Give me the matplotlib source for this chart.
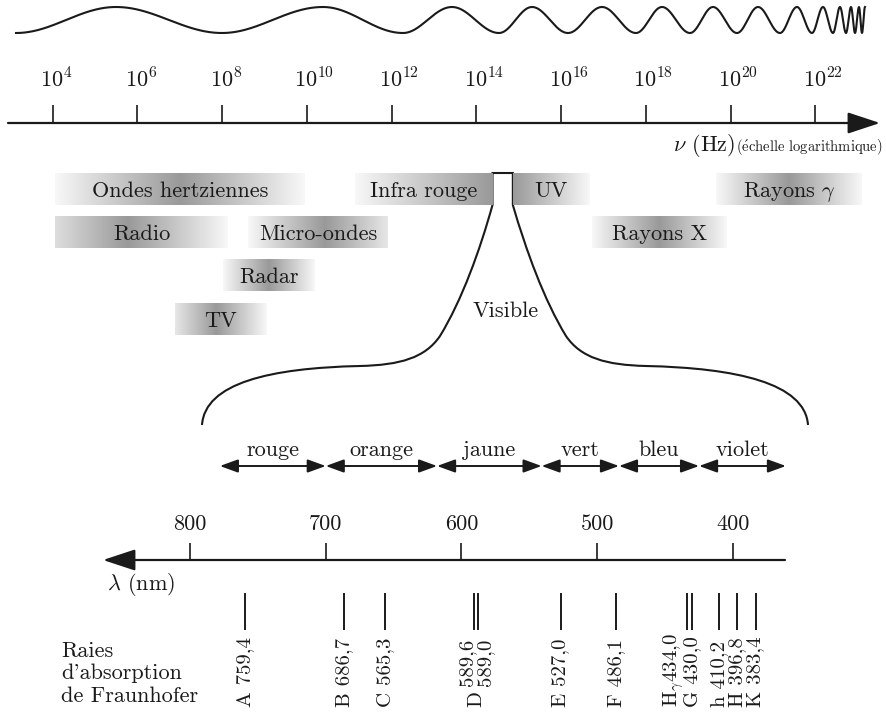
import numpy as np
import matplotlib
matplotlib.use("Agg")
import matplotlib.pyplot as plt
import matplotlib.transforms as mtransforms
from matplotlib.path import Path
from matplotlib.patches import PathPatch

plt.rcParams['font.family'] = ['cmr10', 'DejaVu Serif']
plt.rcParams['mathtext.fontset'] = 'cm'
plt.rcParams['axes.unicode_minus'] = False

INK = '#1a1a1a'

# frequency scale (log10 of Hz)
nu_ticks = [4, 6, 8, 10, 12, 14, 16, 18, 20, 22]

# domains of the spectrum, in log10(Hz)
band_names = ['Ondes hertziennes', 'Infra rouge', 'UV', r'Rayons $\gamma$',
              'Radio', 'Micro-ondes', 'Rayons X', 'Radar', 'TV']
band_lo = [4.06, 11.13, 14.86, 19.66, 4.06, 8.61, 16.72, 8.02, 6.89]
band_hi = [9.95, 14.38, 16.67, 23.10, 8.14, 11.91, 19.90, 10.19, 9.06]
band_row = [0, 0, 0, 0, 1, 1, 1, 2, 3]
band_peak = [0.5, 1.0, 0.0, 0.5, 0.42, 0.55, 0.5, 0.5, 0.45]
visible_lo, visible_hi = 14.38, 14.86

# visible spectrum (nm)
lam_ticks = [800, 700, 600, 500, 400]
color_names = ['rouge', 'orange', 'jaune', 'vert', 'bleu', 'violet']
color_edges = [778, 700, 618, 541, 484, 425, 361]

# Fraunhofer lines
fraun_lam = [759.4, 686.7, 656.3, 589.6, 589.0, 527.0, 486.1,
             434.0, 430.0, 410.2, 396.8, 383.4]
fraun_lab = ['A 759,4', 'B 686,7', 'C 565,3', None, None, 'E 527,0', 'F 486,1',
             r'H$_\gamma$434,0', 'G 430,0', 'h 410,2', 'H 396,8', 'K 383,4']

# x positions (px) of crests/troughs of the drawn wave
wave_ext = [16, 116, 222, 323, 403, 452, 499, 532, 568, 602, 636, 662, 690,
            713, 737, 758, 780, 797, 812, 823, 833, 840, 846, 851, 855, 859,
            862, 865]

W, H = 887, 713
fig = plt.figure(figsize=(W / 100, H / 100), dpi=100)

def layer(xlim):
    ax = fig.add_axes([0, 0, 1, 1])
    ax.set_xlim(*xlim)
    ax.set_ylim(H, 0)
    ax.axis('off')
    ax.patch.set_alpha(0)
    return ax

canvas = layer((0, W))
px_dec = (815.5 - 52.5) / 18
nu_lim = (4 - 52.5 / px_dec, 4 + (W - 52.5) / px_dec)
ax_nu = layer(nu_lim)
px_nm = (733 - 190) / 400
lam_lim = (800 + 190 / px_nm, 800 - (W - 190) / px_nm)
ax_lam = layer(lam_lim)

# ---- wave
xw = np.linspace(wave_ext[0], wave_ext[-1], 3000)
ph = np.interp(xw, wave_ext, np.pi * np.arange(len(wave_ext)))
canvas.plot(xw, 20 + 13 * np.cos(ph), color=INK, lw=1.5)

# ---- frequency axis
y_ax = 123
ax_nu.annotate('', xy=(nu_lim[0] + 880 / px_dec, y_ax),
               xytext=(nu_lim[0] + 8 / px_dec, y_ax),
               arrowprops=dict(arrowstyle='-|>,head_length=1.0,head_width=0.33',
                               mutation_scale=20, lw=1.6, color=INK,
                               shrinkA=0, shrinkB=0))
ax_nu.vlines(nu_ticks, 105, y_ax, color=INK, lw=1.2)
for t in nu_ticks:
    tr = mtransforms.offset_copy(ax_nu.transData, fig=fig,
                                 x=3.8 * len(str(t)), y=0, units='dots')
    ax_nu.text(t, 87, r'$10^{%d}$' % t, transform=tr, ha='center',
               va='baseline', fontsize=16, color=INK)
canvas.text(735, 151, r'$\nu$ (Hz)', ha='right', va='baseline',
            fontsize=16, color=INK)
canvas.text(736, 151, r'($\mathrm{\acute{e}}$chelle logarithmique)',
            ha='left', va='baseline', fontsize=10.5, color=INK)

# ---- domains
row_top = [173, 216, 259, 303]
box_h = 32
t = np.linspace(0, 1, 300)
for name, lo, hi, r, pk in zip(band_names, band_lo, band_hi, band_row, band_peak):
    w = 1 - np.abs(t - pk) / max(pk, 1 - pk)
    g = 0.97 - (0.97 - 0.6) * w
    y0 = row_top[r]
    ax_nu.imshow(g[None, :], cmap='gray', vmin=0, vmax=1, aspect='auto',
                 interpolation='bilinear', extent=(lo, hi, y0 + box_h, y0),
                 zorder=1)
    ax_nu.text((lo + hi) / 2, y0 + 24, name, ha='center', va='baseline',
               fontsize=16, color=INK, zorder=3)
ax_nu.set_xlim(*nu_lim)
ax_nu.set_ylim(H, 0)

# ---- visible funnel
xl = ax_nu.transData.transform((visible_lo, 0))[0]
xr = ax_nu.transData.transform((visible_hi, 0))[0]
top, neck = 173, 205
verts = [(202, 425),
         (205, 383), (270, 368), (360, 366),
         (400, 365), (425, 358), (440, 336),
         (462, 300), (480, 250), (xl, neck),
         (xl, top), (xr, top), (xr, neck),
         (526, 250), (544, 300), (566, 336),
         (581, 358), (606, 365), (646, 366),
         (736, 368), (805, 383), (808, 425)]
codes = ([Path.MOVETO] + [Path.CURVE4] * 9 + [Path.LINETO] * 3 +
         [Path.CURVE4] * 9)
canvas.add_patch(PathPatch(Path(verts, codes), fill=False, ec=INK, lw=1.5,
                           zorder=4))
canvas.fill_between([xl, xr], top, neck + 2, color='white', zorder=3)
canvas.text(506, 311, 'Visible', ha='center', va='center', fontsize=16,
            color=INK)

# ---- colour ranges
y_col = 466
for name, a, b in zip(color_names, color_edges[:-1], color_edges[1:]):
    ax_lam.annotate('', xy=(b, y_col), xytext=(a, y_col),
                    arrowprops=dict(arrowstyle='<|-|>,head_length=0.55,head_width=0.2',
                                    mutation_scale=20, lw=1.4, color=INK,
                                    shrinkA=0, shrinkB=0))
    ax_lam.text((a + b) / 2, 456, name, ha='center', va='baseline',
                fontsize=16, color=INK)

# ---- wavelength axis
y_lam = 560
ax_lam.annotate('', xy=(lam_lim[0] - 103 / px_nm, y_lam),
                xytext=(lam_lim[0] - 785 / px_nm, y_lam),
                arrowprops=dict(arrowstyle='-|>,head_length=1.0,head_width=0.33',
                                mutation_scale=20, lw=1.6, color=INK,
                                shrinkA=0, shrinkB=0))
ax_lam.vlines(lam_ticks, 543, y_lam, color=INK, lw=1.2)
for v in lam_ticks:
    ax_lam.text(v, 530, str(v), ha='center', va='baseline', fontsize=16,
                color=INK)
canvas.text(107, 590, r'$\lambda$ (nm)', ha='left', va='baseline',
            fontsize=16, color=INK)

# ---- Fraunhofer lines
FS = 15
for i, (lam, lab) in enumerate(zip(fraun_lam, fraun_lab)):
    dx = {3: -2.0, 4: 2.0}.get(i, 0)
    tr = mtransforms.offset_copy(ax_lam.transData, fig=fig, x=dx, y=0,
                                 units='dots')
    ax_lam.plot([lam, lam], [594, 629], color=INK, lw=1.4, transform=tr)
    if lab is not None:
        lx = -13 if lab.startswith('H$') else 0
        tr2 = mtransforms.offset_copy(ax_lam.transData, fig=fig, x=lx, y=0,
                                      units='dots')
        ax_lam.text(lam, 707, lab, rotation=90, ha='center', va='bottom',
                    fontsize=FS, color=INK, transform=tr2)
d_lam = (fraun_lam[3] + fraun_lam[4]) / 2
ax_lam.text(d_lam, 707, 'D', rotation=90, ha='center', va='bottom',
            fontsize=FS, color=INK)
ax_lam.text(d_lam, 686, '589,6\n589,0', rotation=90, ha='center',
            va='bottom', fontsize=FS, color=INK, linespacing=1.0)
ax_lam.set_xlim(*lam_lim)

canvas.text(61, 706, "Raies\nd'absorption\nde Fraunhofer", ha='left',
            va='bottom', fontsize=16, color=INK, linespacing=1.2)

fig.savefig('out.png', dpi=100)
